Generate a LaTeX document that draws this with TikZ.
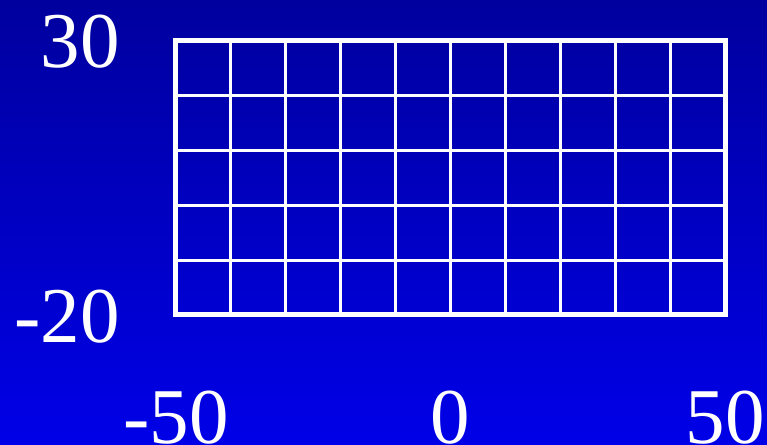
\documentclass[tikz,border=0pt]{standalone}
\usepackage{fontspec}
\setmainfont{Liberation Serif}
\definecolor{bgtop}{RGB}{0,0,158}
\definecolor{bgbot}{RGB}{0,0,232}
\tikzset{
  lbl/.style={text=white, inner sep=0pt, font=\fontsize{79}{79}\selectfont},
  gridline/.style={draw=white, line width=3pt},
  gridframe/.style={draw=white, line width=5pt}
}
\begin{document}
\begin{tikzpicture}[x=1pt,y=1pt]
\useasboundingbox (0,0) rectangle (767,444);
\shade[top color=bgtop, bottom color=bgbot] (0,0) rectangle (767,444);
% grid
\foreach \i in {1,...,9} {
  \draw[gridline] ({175.5+55*\i},129) -- ({175.5+55*\i},403);
}
\foreach \j in {1,...,4} {
  \draw[gridline] (175.5,{129+54.8*\j}) -- (725.5,{129+54.8*\j});
}
\draw[gridframe] (175.5,129) rectangle (725.5,403);
% labels
\node[lbl, anchor=base east] (y30) at (120,376) {30};
\node[lbl, anchor=base east] (ym20) at (120,101) {-20};
\node[lbl, anchor=base] (xm50) at (176,1) {-50};
\node[lbl, anchor=base] (x0) at (450,1) {0};
\node[lbl, anchor=base] (x50) at (725,1) {50};
\end{tikzpicture}
\end{document}
